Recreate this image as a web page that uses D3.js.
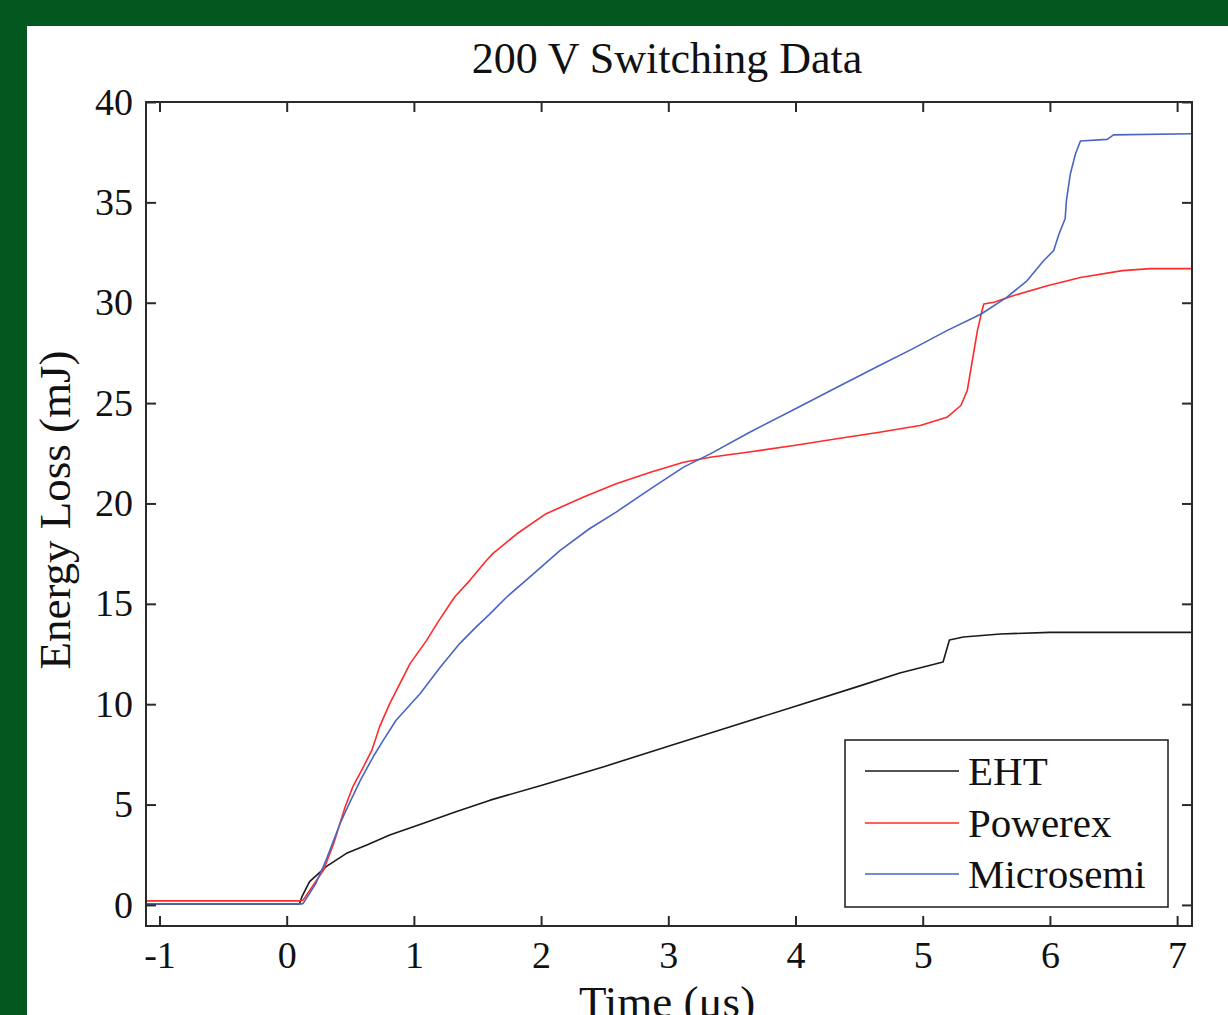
<!DOCTYPE html>
<html>
<head>
<meta charset="utf-8">
<script src="https://cdn.jsdelivr.net/npm/d3@7/dist/d3.min.js"></script>
<style>
  html, body { margin: 0; padding: 0; background: #02581f; overflow: hidden; }
  svg { display: block; }
  text { font-family: "Liberation Serif", "Times New Roman", serif; fill: #111; }
</style>
</head>
<body>
<div id="chart"></div>
<script>
// data (time in us, energy in mJ)
var ehtTime = [-1.106, 0.10, 0.12, 0.18, 0.31, 0.47, 0.63, 0.81, 1.07, 1.33, 1.60, 2.0, 2.5, 3.0, 3.5, 4.0, 4.5, 4.82, 5.16, 5.21, 5.32, 5.61, 6.0, 7.117];
var ehtEnergy = [0.05, 0.05, 0.41, 1.16, 1.91, 2.57, 2.99, 3.48, 4.06, 4.64, 5.22, 5.95, 6.9, 7.9, 8.9, 9.9, 10.9, 11.55, 12.1, 13.2, 13.35, 13.5, 13.58, 13.58];

var powerexTime = [-1.106, 0.10, 0.13, 0.29, 0.37, 0.46, 0.52, 0.59, 0.67, 0.73, 0.81, 0.89, 0.97, 1.10, 1.19, 1.32, 1.44, 1.57, 1.62, 1.81, 2.04, 2.33, 2.59, 2.86, 3.12, 3.33, 3.62, 4.0, 4.3, 4.66, 4.98, 5.19, 5.30, 5.35, 5.39, 5.43, 5.46, 5.48, 5.56, 5.71, 5.98, 6.24, 6.57, 6.79, 7.117];
var powerexEnergy = [0.2, 0.2, 0.25, 1.74, 3.07, 4.89, 5.89, 6.72, 7.71, 8.87, 10.03, 11.03, 12.02, 13.18, 14.1, 15.34, 16.17, 17.16, 17.5, 18.49, 19.49, 20.31, 20.98, 21.56, 22.05, 22.3, 22.55, 22.9, 23.2, 23.55, 23.88, 24.29, 24.88, 25.62, 27.11, 28.61, 29.44, 29.94, 30.02, 30.35, 30.85, 31.26, 31.6, 31.7, 31.7];

var microsemiTime = [-1.106, 0.12, 0.13, 0.23, 0.31, 0.42, 0.48, 0.58, 0.68, 0.76, 0.86, 1.05, 1.21, 1.36, 1.49, 1.60, 1.73, 1.91, 2.15, 2.38, 2.59, 2.86, 3.12, 3.33, 3.64, 4.0, 4.3, 4.66, 4.92, 5.19, 5.46, 5.66, 5.82, 5.95, 6.03, 6.07, 6.12, 6.13, 6.16, 6.20, 6.24, 6.45, 6.50, 7.117];
var microsemiEnergy = [0.05, 0.05, 0.08, 1.08, 2.24, 4.06, 4.89, 6.22, 7.38, 8.21, 9.2, 10.53, 11.86, 13.02, 13.85, 14.51, 15.34, 16.33, 17.66, 18.74, 19.57, 20.73, 21.81, 22.47, 23.55, 24.72, 25.7, 26.87, 27.7, 28.61, 29.44, 30.27, 31.09, 32.09, 32.6, 33.4, 34.2, 35.1, 36.4, 37.4, 38.06, 38.14, 38.36, 38.42];

var seriesNames = ["EHT", "Powerex", "Microsemi"];
var seriesColors = ["#1a1a1a", "#ff2a2a", "#4a64c4"];
var xTicks = [-1, 0, 1, 2, 3, 4, 5, 6, 7];
var yTicks = [0, 5, 10, 15, 20, 25, 30, 35, 40];

var W = 1228, H = 1015;
var plot = {left: 146, right: 1192, top: 102, bottom: 926};

var svg = d3.select("#chart").append("svg")
  .attr("width", W)
  .attr("height", H);

// white panel on green page
svg.append("rect")
  .attr("x", 27).attr("y", 26)
  .attr("width", W - 27).attr("height", H - 26)
  .attr("fill", "#fff");

var x = d3.scaleLinear().domain([-1.106, 7.117]).range([plot.left, plot.right]);
var y = d3.scaleLinear().domain([-1.05, 40]).range([plot.bottom, plot.top]);

svg.append("clipPath").attr("id", "clip")
  .append("rect")
  .attr("x", plot.left).attr("y", plot.top)
  .attr("width", plot.right - plot.left).attr("height", plot.bottom - plot.top);

// lines
var series = [
  {name: seriesNames[0], t: ehtTime, e: ehtEnergy, color: seriesColors[0]},
  {name: seriesNames[1], t: powerexTime, e: powerexEnergy, color: seriesColors[1]},
  {name: seriesNames[2], t: microsemiTime, e: microsemiEnergy, color: seriesColors[2]}
];

var line = d3.line()
  .x(function(d) { return x(d[0]); })
  .y(function(d) { return y(d[1]); });

var lines = svg.append("g").attr("clip-path", "url(#clip)");
series.forEach(function(s) {
  var pts = s.t.map(function(t, i) { return [t, s.e[i]]; });
  lines.append("path")
    .datum(pts)
    .attr("d", line)
    .attr("fill", "none")
    .attr("stroke", s.color)
    .attr("stroke-width", 1.6)
    .attr("stroke-linejoin", "round");
});

// axes, ticks pointing inward on all four sides
function styleAxis(g) {
  g.select(".domain").remove();
  g.selectAll(".tick line").attr("stroke", "#2a2a2a").attr("stroke-width", 2);
  g.selectAll(".tick text").style("font-size", "38px").attr("fill", "#111");
}

// plain hyphen for negatives, like the original
var plainFormat = function(d) { return String(d); };

svg.append("g")
  .attr("transform", "translate(0," + plot.bottom + ")")
  .call(d3.axisBottom(x).tickValues(xTicks).tickSize(-10).tickPadding(15).tickFormat(plainFormat))
  .call(styleAxis);

svg.append("g")
  .attr("transform", "translate(0," + plot.top + ")")
  .call(d3.axisTop(x).tickValues(xTicks).tickSize(-10).tickFormat(""))
  .call(styleAxis);

svg.append("g")
  .attr("transform", "translate(" + plot.left + ",0)")
  .call(d3.axisLeft(y).tickValues(yTicks).tickSize(-10).tickPadding(13).tickFormat(plainFormat))
  .call(styleAxis);

svg.append("g")
  .attr("transform", "translate(" + plot.right + ",0)")
  .call(d3.axisRight(y).tickValues(yTicks).tickSize(-10).tickFormat(""))
  .call(styleAxis);

// frame
svg.append("rect")
  .attr("x", plot.left).attr("y", plot.top)
  .attr("width", plot.right - plot.left).attr("height", plot.bottom - plot.top)
  .attr("fill", "none")
  .attr("stroke", "#2a2a2a")
  .attr("stroke-width", 2);

// title and axis labels
svg.append("text")
  .attr("x", 667).attr("y", 73)
  .attr("text-anchor", "middle")
  .style("font-size", "44px")
  .text("200 V Switching Data");

svg.append("text")
  .attr("transform", "translate(70,510) rotate(-90)")
  .attr("text-anchor", "middle")
  .style("font-size", "45px")
  .text("Energy Loss (mJ)");

// sits at the bottom edge, partly cut off as in the original
svg.append("text")
  .attr("x", 667).attr("y", 1017)
  .attr("text-anchor", "middle")
  .style("font-size", "45px")
  .text("Time (μs)");

// legend
var legend = svg.append("g");
legend.append("rect")
  .attr("x", 845).attr("y", 740)
  .attr("width", 323).attr("height", 167)
  .attr("fill", "#fff")
  .attr("stroke", "#1a1a1a")
  .attr("stroke-width", 1.5);

var rowY = [771, 823, 874];
series.forEach(function(s, i) {
  legend.append("line")
    .attr("x1", 865).attr("x2", 959)
    .attr("y1", rowY[i]).attr("y2", rowY[i])
    .attr("stroke", s.color)
    .attr("stroke-width", 1.6);
  legend.append("text")
    .attr("x", 968).attr("y", rowY[i] + 14)
    .style("font-size", "41px")
    .text(s.name);
});
</script>
</body>
</html>
